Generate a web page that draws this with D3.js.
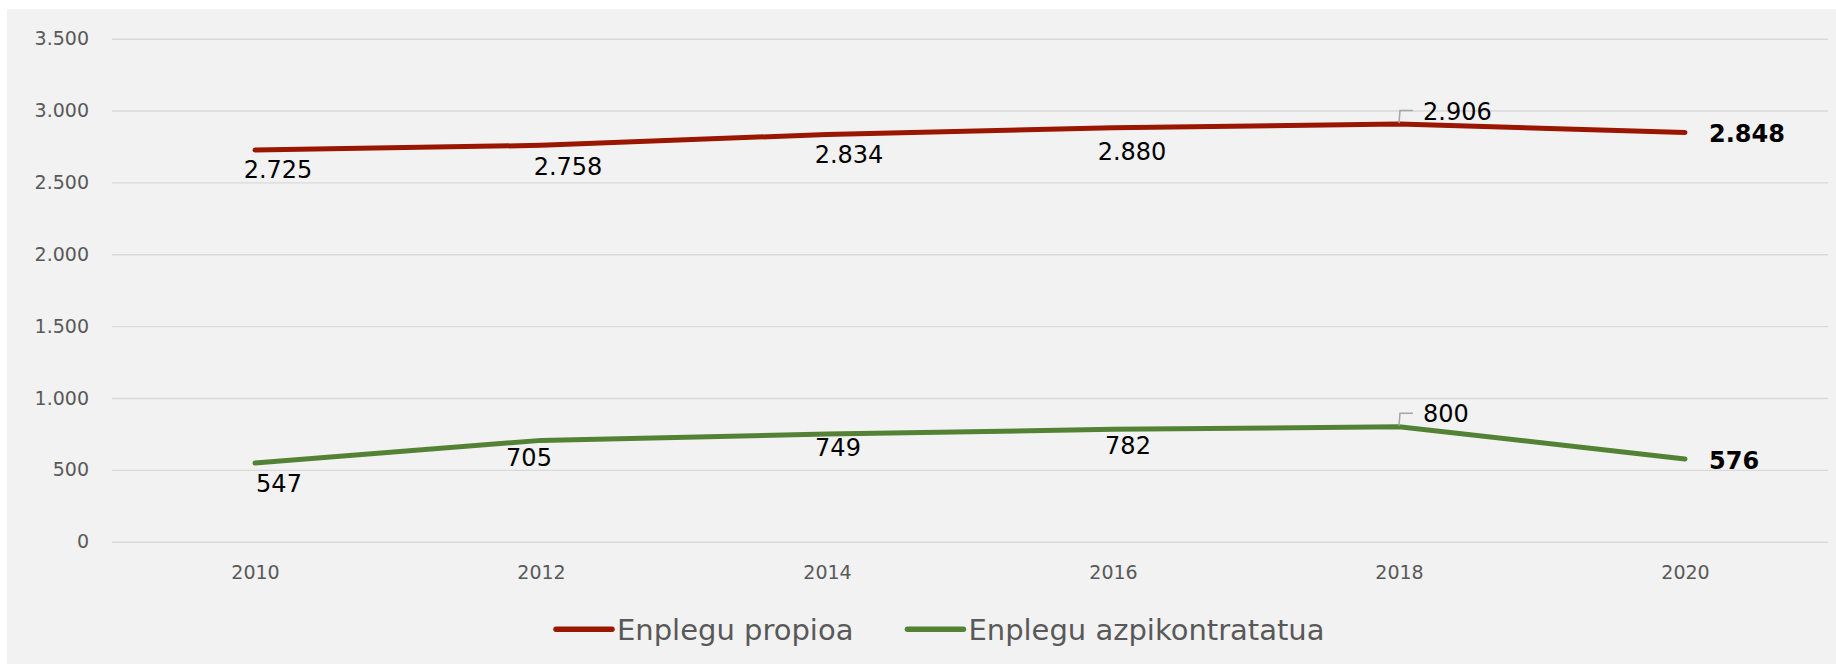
<!DOCTYPE html>
<html>
<head>
<meta charset="utf-8">
<script src="https://cdn.jsdelivr.net/npm/d3@7"></script>
<style>
  body { margin: 0; background: #ffffff; }
  svg { display: block; }
</style>
</head>
<body>
<div id="chart"></div>
<script>
'use strict';

// data
const years = ['2010', '2012', '2014', '2016', '2018', '2020']
const enplegu_propioa = [2725, 2758, 2834, 2880, 2906, 2848]
const enplegu_azpikontratatua = [547, 705, 749, 782, 800, 576]
const y_ticks = [0, 500, 1000, 1500, 2000, 2500, 3000, 3500]
const series_names = ['Enplegu propioa', 'Enplegu azpikontratatua']

// where each data label sits relative to its point (Excel labels were dragged by hand)
const label_place_propioa = [
  {mode: 'below', dx: 23, dy: 28},
  {mode: 'below', dx: 27, dy: 30},
  {mode: 'below', dx: 22, dy: 29},
  {mode: 'below', dx: 19, dy: 32},
  {mode: 'leader', dx: 24, dy: -4},
  {mode: 'right', dx: 24, dy: 10}
]
const label_place_azpi = [
  {mode: 'below', dx: 24, dy: 29},
  {mode: 'below', dx: -12, dy: 26},
  {mode: 'below', dx: 11, dy: 22},
  {mode: 'below', dx: 15, dy: 25},
  {mode: 'leader', dx: 24, dy: -5},
  {mode: 'right', dx: 24, dy: 10}
]

const dimensions = {
  width: 1836,
  height: 664,
  bg_left: 7,
  bg_top: 9,
  plot_left: 112,
  plot_right: 1828,
  plot_top: 38.7,
  plot_bottom: 541.7
}

const colors = ['#9a1600', '#548235']

const locale = d3.formatLocale({decimal: ',', thousands: '.', grouping: [3], currency: ['', '€']})
const num_format = locale.format(',d')

const svg_el = d3.select('#chart')
  .append('svg')
  .attr('width', dimensions.width)
  .attr('height', dimensions.height)

// chart area background
svg_el.append('rect')
  .attr('x', dimensions.bg_left)
  .attr('y', dimensions.bg_top)
  .attr('width', dimensions.width - dimensions.bg_left)
  .attr('height', dimensions.height - dimensions.bg_top)
  .attr('fill', '#f2f2f2')

// scales
const xScale = d3.scalePoint()
  .domain(years)
  .range([dimensions.plot_left, dimensions.plot_right])
  .padding(0.5)

const yScale = d3.scaleLinear()
  .domain([0, 3500])
  .range([dimensions.plot_bottom, dimensions.plot_top])

// Y axis with gridlines
const yAxis = d3.axisLeft(yScale)
  .tickValues(y_ticks)
  .tickFormat(num_format)
  .tickSize(-(dimensions.plot_right - dimensions.plot_left))
  .tickPadding(23)

const yAxisGroup = svg_el.append('g')
  .attr('transform', `translate(${dimensions.plot_left},0)`)
  .call(yAxis)
yAxisGroup.select('.domain').remove()
yAxisGroup.selectAll('.tick line')
  .attr('stroke', '#d9d9d9')
  .attr('stroke-width', 1.4)
yAxisGroup.selectAll('.tick text')
  .style('font-family', 'DejaVu Sans')
  .style('font-size', '19px')
  .attr('fill', '#595959')

// X axis
const xAxis = d3.axisBottom(xScale)
  .tickSize(0)
  .tickPadding(24)

const xAxisGroup = svg_el.append('g')
  .attr('transform', `translate(0,${dimensions.plot_bottom})`)
  .call(xAxis)
xAxisGroup.select('.domain').remove()
xAxisGroup.selectAll('.tick text')
  .style('font-family', 'DejaVu Sans')
  .style('font-size', '19px')
  .attr('fill', '#595959')

// lines
const dataReady = [
  {name: series_names[0], values: enplegu_propioa, places: label_place_propioa, stroke: colors[0]},
  {name: series_names[1], values: enplegu_azpikontratatua, places: label_place_azpi, stroke: colors[1]}
]

const line_gen = d3.line()
  .x((d, i) => xScale(years[i]))
  .y((d) => yScale(d))

const chart_g = svg_el.append('g')

chart_g.selectAll('path.series')
  .data(dataReady)
  .join('path')
  .attr('class', 'series')
  .attr('d', d => line_gen(d.values))
  .attr('fill', 'none')
  .attr('stroke', d => d.stroke)
  .attr('stroke-width', 5)
  .attr('stroke-linecap', 'round')
  .attr('stroke-linejoin', 'round')

// data labels
dataReady.forEach(function(series){
  series.values.forEach(function(v, i){
    const px = xScale(years[i])
    const py = yScale(v)
    const place = series.places[i]
    const label = chart_g.append('text')
      .style('font-family', 'DejaVu Sans')
      .style('font-size', '24px')
      .attr('fill', '#000000')
      .text(num_format(v))
    if(place.mode === 'below'){
      label.attr('x', px + place.dx)
        .attr('y', py + place.dy)
        .attr('text-anchor', 'middle')
    }else if(place.mode === 'right'){
      label.attr('x', px + place.dx)
        .attr('y', py + place.dy)
        .style('font-weight', 'bold')
    }else {
      label.attr('x', px + place.dx)
        .attr('y', py + place.dy)
      // leader line from the point up to the label
      chart_g.append('path')
        .attr('d', `M${px},${py - 1}L${px + 1},${py - 13.5}L${px + 14},${py - 13.5}`)
        .attr('fill', 'none')
        .attr('stroke', '#a6a6a6')
        .attr('stroke-width', 1.5)
    }
  })
})

// legend
const legend_y = 629.3
let legend_x = 556
dataReady.forEach(function(series){
  svg_el.append('line')
    .attr('x1', legend_x)
    .attr('x2', legend_x + 56)
    .attr('y1', legend_y)
    .attr('y2', legend_y)
    .attr('stroke', series.stroke)
    .attr('stroke-width', 5.5)
    .attr('stroke-linecap', 'round')
  const txt = svg_el.append('text')
    .attr('x', legend_x + 61)
    .attr('y', 640)
    .style('font-family', 'DejaVu Sans')
    .style('font-size', '29px')
    .attr('fill', '#595959')
    .text(series.name)
  legend_x = legend_x + 61 + txt.node().getComputedTextLength() + 54
})
</script>
</body>
</html>
